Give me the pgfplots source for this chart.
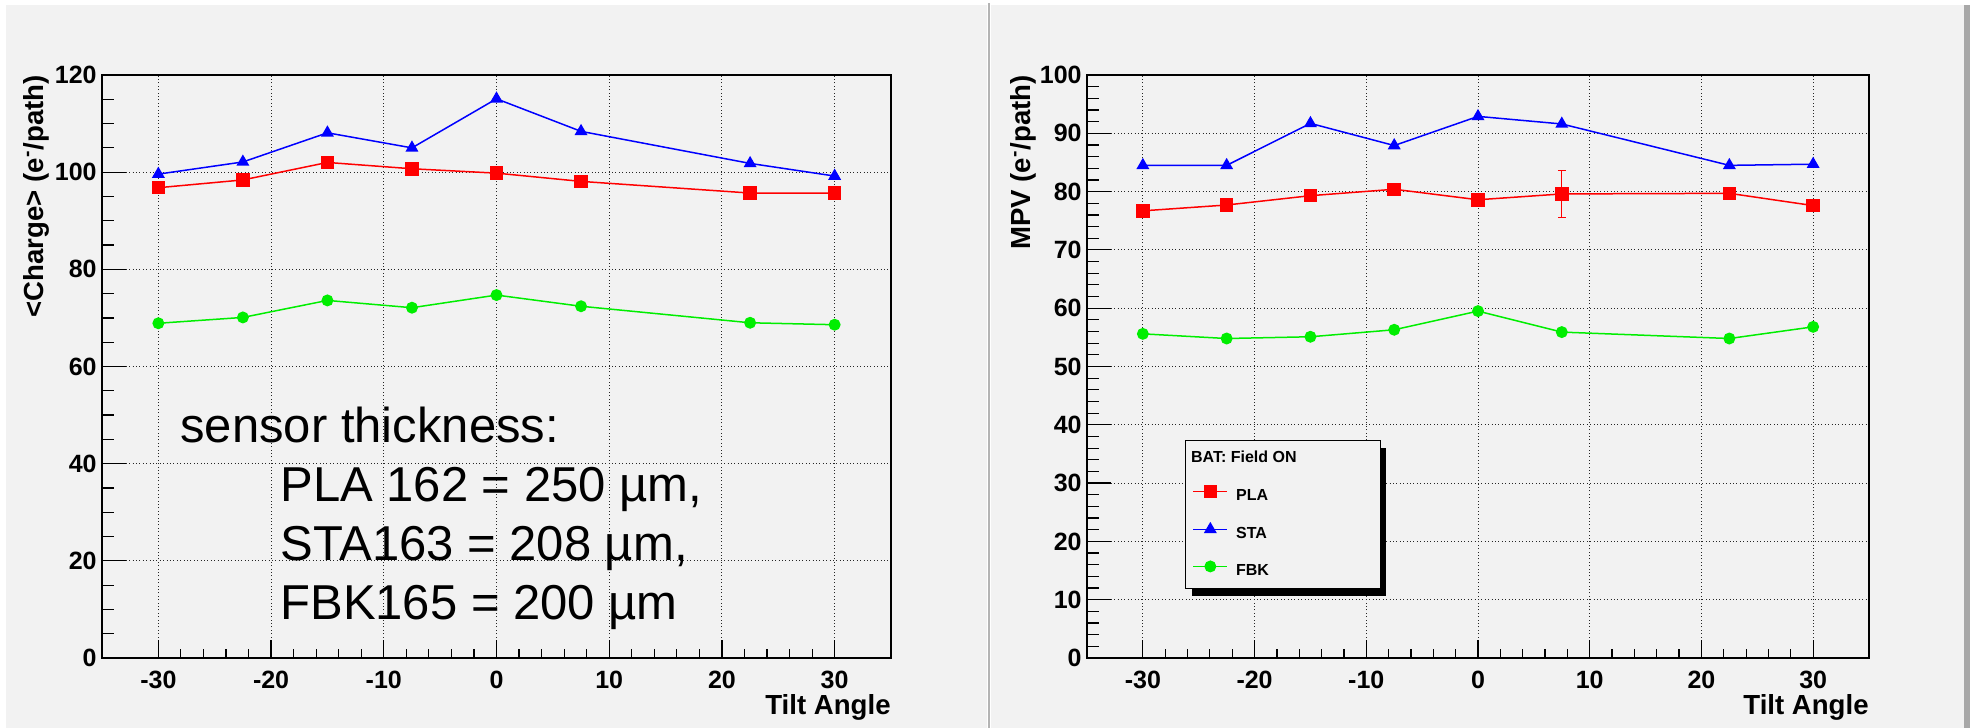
\documentclass[border=0pt]{standalone}
\usepackage{pgfplots}
\pgfplotsset{compat=1.18}
\usepackage{fontspec}
\setmainfont{Liberation Sans}
\usetikzlibrary{shadows}
\makeatletter
\tikzset{nopreact/.code={\let\tikz@preactions\pgfutil@empty}}
\makeatother
\definecolor{bg}{HTML}{F2F2F2}
\definecolor{sepgray}{HTML}{B4B4B4}
\definecolor{edgegray}{HTML}{A8A8A8}
\definecolor{rootred}{HTML}{FF0000}
\definecolor{rootblue}{HTML}{0000FF}
\definecolor{rootgreen}{HTML}{00EE00}
\pgfplotsset{
  rootaxis/.style={
    scale only axis, height=291.5pt,
    xmin=-35, xmax=35,
    xtick={-30,-20,-10,0,10,20,30},
    xticklabels={-30,-20,-10,0,10,20,30},
    minor x tick num=4,
    xtick pos=bottom, ytick pos=left,
    tick align=inside,
    axis line style={black, line width=0.9pt},
    tick style={black, line width=0.6pt},
    xtick style={/pgfplots/major tick length=9pt, /pgfplots/minor tick length=4.4pt},
    ytick style={/pgfplots/major tick length=12pt, /pgfplots/minor tick length=6pt},
    grid=major,
    major grid style={black!85, line width=0.5pt, dash pattern=on 0.5pt off 1.2pt},
    /pgf/number format/assume math mode=true,
    ticklabel style={font=\bfseries\fontsize{12.5}{14}\selectfont, inner sep=0pt},
    xticklabel shift=6.5pt, yticklabel shift=2.5pt,
    label style={font=\bfseries\fontsize{13.8}{15}\selectfont, inner sep=0pt},
    xlabel={Tilt Angle},
    xlabel style={at={(rel axis cs:1,-0.0617)}, anchor=north east},
  },
  pla/.style={rootred, line width=0.75pt, mark=square*, mark size=3pt, mark options={solid, fill=rootred, draw=rootred}},
  sta/.style={rootblue, line width=0.75pt, mark=triangle*, mark size=3pt, mark options={solid, fill=rootblue, draw=rootblue}},
  fbk/.style={rootgreen, line width=0.75pt, mark=*, mark size=2.6pt, mark options={solid, fill=rootgreen, draw=rootgreen}},
}
\begin{document}
\begin{tikzpicture}
\useasboundingbox (0,0) rectangle (985pt,364pt);
\fill[white] (0,0) rectangle (985pt,364pt);
\fill[bg] (3pt,0) rectangle (493.5pt,361.5pt);
\fill[sepgray] (494pt,0) rectangle (495pt,362.5pt);
\fill[bg] (495.5pt,0) rectangle (982pt,361.5pt);
\fill[edgegray] (982pt,0) rectangle (985pt,361.5pt);

% ---------------- left panel ----------------
\begin{axis}[rootaxis,
  at={(51pt,35pt)}, anchor=south west,
  width=394.5pt,
  ymin=0, ymax=120, ytick={0,20,40,60,80,100,120},
  minor y tick num=3,
  ylabel={<Charge> (e\textsuperscript{-}/path)},
  ylabel style={at={(rel axis cs:-0.066,1)}, anchor=south east, rotate=0},
]
\addplot[pla] coordinates {(-30,96.8)(-22.5,98.4)(-15,102.0)(-7.5,100.7)(0,99.8)(7.5,98.1)(22.5,95.7)(30,95.7)};
\addplot[sta] coordinates {(-30,99.6)(-22.5,102.1)(-15,108.1)(-7.5,105.0)(0,115.1)(7.5,108.4)(22.5,101.8)(30,99.2)};
\addplot[fbk] coordinates {(-30,68.9)(-22.5,70.1)(-15,73.6)(-7.5,72.1)(0,74.7)(7.5,72.4)(22.5,69.0)(30,68.6)};
\end{axis}

\node[anchor=base west, inner sep=0pt, font=\fontsize{24.5}{28}\selectfont] at (90pt,142.5pt) {sensor thickness:};
\node[anchor=base west, inner sep=0pt, font=\fontsize{24.5}{28}\selectfont] at (140pt,113pt) {PLA 162 = 250 µm,};
\node[anchor=base west, inner sep=0pt, font=\fontsize{24.5}{28}\selectfont] at (140pt,83.5pt) {STA163 = 208 µm,};
\node[anchor=base west, inner sep=0pt, font=\fontsize{24.5}{28}\selectfont] at (140pt,54pt) {FBK165 = 200 µm};

% ---------------- right panel ----------------
\begin{axis}[rootaxis,
  at={(543.5pt,35pt)}, anchor=south west,
  width=391pt,
  ymin=0, ymax=100, ytick={0,10,20,30,40,50,60,70,80,90,100},
  minor y tick num=4,
  ylabel={MPV (e\textsuperscript{-}/path)},
  ylabel style={at={(rel axis cs:-0.0639,1)}, anchor=south east, rotate=0},
  legend cell align=left,
  legend image code/.code={%
    \path[nopreact] (0pt,-1pt) (17pt,-1pt);
    \draw[nopreact, mark=none] (0pt,2.4pt) -- (17pt,2.4pt);
    \draw[nopreact] plot coordinates {(8.5pt,2.4pt)};},
  legend style={at={(rel axis cs:0.1253,0.374)}, anchor=north west,
    draw=black, line width=0.6pt, fill=bg,
    font=\bfseries\fontsize{8}{9}\selectfont,
    inner xsep=3.5pt, inner ysep=5.2pt, row sep=10pt,
    nodes={inner sep=0pt},
    /tikz/every odd column/.style={column sep=4pt},
    drop shadow={fill=black, opacity=1, shadow xshift=3pt, shadow yshift=-3.5pt}},
]
\addlegendimage{empty legend}
\addlegendentry{\hspace*{-22.5pt}\makebox[91pt][l]{BAT: Field ON}}
\addplot[pla, error bars/.cd, y dir=both, y explicit, error bar style={line width=0.6pt, rootred}, error mark options={rotate=90, mark size=2pt, line width=0.6pt, rootred}]
  coordinates {(-30,76.7) +- (0,0) (-22.5,77.7) +- (0,0) (-15,79.3) +- (0,0) (-7.5,80.4) +- (0,0) (0,78.6) +- (0,0) (7.5,79.6) +- (0,4.0) (22.5,79.7) +- (0,0) (30,77.6) +- (0,0)};
\addlegendentry{PLA}
\addplot[sta] coordinates {(-30,84.5)(-22.5,84.5)(-15,91.7)(-7.5,87.9)(0,92.9)(7.5,91.6)(22.5,84.5)(30,84.7)};
\addlegendentry{STA}
\addplot[fbk] coordinates {(-30,55.6)(-22.5,54.8)(-15,55.1)(-7.5,56.3)(0,59.5)(7.5,55.9)(22.5,54.8)(30,56.8)};
\addlegendentry{FBK}
\end{axis}
\end{tikzpicture}
\end{document}
